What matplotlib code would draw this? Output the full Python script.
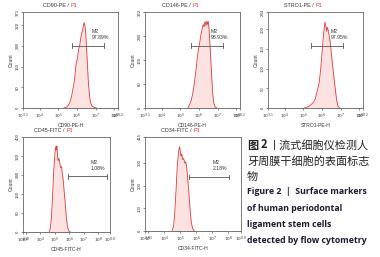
import numpy as np
import matplotlib
matplotlib.use("Agg")
import matplotlib.pyplot as plt

plt.rcParams['font.family'] = ['Liberation Sans', 'DejaVu Sans']

# panel names, x labels, % inside the M2 gate
titles = ['CD90-PE', 'CD146-PE', 'STRO1-PE', 'CD45-FITC', 'CD34-FITC']
xlabels = ['CD90-PE-H', 'CD146-PE-H', 'STRO1-PE-H', 'CD45-FITC-H', 'CD34-FITC-H']
pct = ['97.89%', '98.93%', '97.95%', '1.08%', '2.18%']

# histograms: log10 of fluorescence, count
cd90_x = [5.30, 5.45, 5.55, 5.65, 5.72, 5.80, 5.87, 5.92, 5.96, 6.02, 6.08, 6.14, 6.20, 6.25,
          6.30, 6.34, 6.38, 6.42, 6.46, 6.50, 6.55, 6.60, 6.66, 6.72, 6.80, 6.90, 7.05]
cd90_y = [0, 4, 12, 28, 50, 80, 110, 150, 175, 190, 225, 240, 270, 290,
          300, 318, 330, 320, 295, 245, 180, 110, 55, 22, 8, 3, 0]
cd146_x = [5.40, 5.50, 5.58, 5.65, 5.72, 5.80, 5.86, 5.92, 5.98, 6.04, 6.10, 6.16, 6.22,
           6.27, 6.32, 6.37, 6.42, 6.46, 6.50, 6.55, 6.60, 6.66, 6.72, 6.78, 6.85, 6.95]
cd146_y = [0, 12, 25, 45, 70, 110, 140, 175, 200, 220, 245, 262, 280,
           272, 290, 276, 292, 280, 290, 255, 200, 130, 60, 20, 5, 0]
stro1_x = [5.05, 5.25, 5.40, 5.55, 5.65, 5.75, 5.85, 5.93, 6.00, 6.06, 6.11, 6.16, 6.20,
           6.24, 6.28, 6.33, 6.38, 6.43, 6.48, 6.54, 6.60, 6.66, 6.72, 6.78, 6.85, 6.95]
stro1_y = [0, 3, 8, 15, 25, 45, 65, 100, 140, 175, 200, 218, 210,
           195, 205, 198, 185, 170, 150, 120, 95, 70, 45, 22, 5, 0]
cd45_x = [4.60, 4.68, 4.76, 4.84, 4.92, 5.00, 5.06, 5.10, 5.14, 5.18, 5.22, 5.28,
          5.34, 5.40, 5.46, 5.52, 5.58, 5.64, 5.70, 5.78, 5.86, 5.95, 6.05]
cd45_y = [0, 15, 60, 150, 260, 330, 360, 345, 362, 320, 300, 310,
          290, 270, 275, 240, 215, 170, 130, 70, 25, 5, 0]
cd34_x = [4.50, 4.58, 4.66, 4.74, 4.82, 4.90, 4.96, 5.00, 5.05, 5.10, 5.16,
          5.22, 5.28, 5.34, 5.40, 5.46, 5.52, 5.58, 5.64, 5.70, 5.78, 5.88]
cd34_y = [0, 20, 80, 180, 290, 350, 372, 355, 330, 340, 315,
          320, 300, 305, 285, 240, 190, 130, 75, 35, 10, 0]
hx = [cd90_x, cd146_x, stro1_x, cd45_x, cd34_x]
hy = [cd90_y, cd146_y, stro1_y, cd45_y, cd34_y]

# M2 gate: log10 low, log10 high, count level
gate_lo = [5.75, 5.57, 5.43, 5.92, 5.57]
gate_hi = [7.45, 7.27, 7.13, 8.62, 8.07]
gate_y = [240, 209, 158, 234, 239]

# axis ranges
x_lo = [3.1, 3.1, 3.1, 2.8, 2.8]
x_hi = [8.2, 8.2, 8.2, 8.8, 8.8]
yticks = [[0, 80, 160, 240, 320, 371],
          [0, 80, 160, 240, 322],
          [0, 50, 100, 150, 200, 244],
          [0, 80, 160, 240, 320, 400],
          [0, 100, 200, 300, 415]]

W, H = 380, 257
fig = plt.figure(figsize=(W / 100, H / 100), dpi=100)
# axes boxes in pixels: left, right, top, bottom
boxes = [(23, 118, 12, 108), (145, 240, 12, 108), (268, 363, 12, 108),
         (23, 110, 137, 232), (145, 241, 137, 231)]

red = '#e0393a'
fill = '#fce3e1'
frame = '#666666'
fs = 3.1

for i in range(5):
    l, r, t, b = boxes[i]
    ax = fig.add_axes([l / W, 1 - b / H, (r - l) / W, (b - t) / H])
    x = 10 ** np.array(hx[i])
    ax.fill_between(x, hy[i], color=fill, lw=0)
    ax.plot(x, hy[i], color=red, lw=0.6)
    ax.set_xscale('log')
    ax.set_xlim(10 ** x_lo[i], 10 ** x_hi[i])
    ax.set_ylim(0, yticks[i][-1])

    dec = list(range(int(np.ceil(x_lo[i])), int(np.floor(x_hi[i])) + 1))
    ticks = [10 ** x_lo[i]] + [10.0 ** d for d in dec] + [10 ** x_hi[i]]
    labs = ['$10^{%g}$' % x_lo[i]] + ['$10^{%d}$' % d for d in dec] + ['$10^{%g}$' % x_hi[i]]
    ax.set_xticks(ticks)
    ax.set_xticklabels(labs)
    ax.set_yticks(yticks[i])
    ax.set_yticklabels([str(v) for v in yticks[i]], rotation=90, va='center')
    ax.tick_params(labelsize=fs, length=1.5, width=0.4, pad=1, colors='#333333')
    ax.tick_params(which='minor', length=0.8, width=0.3, colors='#333333')
    for s in ax.spines.values():
        s.set_color(frame)
        s.set_linewidth(0.6)
    ax.set_xlabel(xlabels[i], fontsize=fs + 0.5, labelpad=1.5, color='#333333')
    ax.set_ylabel('Count', fontsize=fs + 0.5, labelpad=1.5, color='#333333')

    # M2 gate bar with end caps
    ax.plot([10 ** gate_lo[i], 10 ** gate_hi[i]], [gate_y[i], gate_y[i]], color='#555555', lw=0.6)
    cap = yticks[i][-1] * 0.025
    for g in (gate_lo[i], gate_hi[i]):
        ax.plot([10 ** g, 10 ** g], [gate_y[i] - cap, gate_y[i] + cap], color='#555555', lw=0.6)
    mid = (gate_lo[i] + gate_hi[i]) / 2 + 0.2
    ax.text(10 ** mid, gate_y[i] + yticks[i][-1] * 0.15, 'M2', fontsize=fs + 0.6,
            color='#333333', ha='left', va='center')
    ax.text(10 ** mid, gate_y[i] + yticks[i][-1] * 0.085, pct[i], fontsize=fs + 0.6,
            color='#333333', ha='left', va='center')

    # title: name in grey, P1 in red
    t1 = ax.text(0.5, 1.04, titles[i] + ' / ', transform=ax.transAxes, fontsize=fs + 0.8,
                 color='#333333', ha='right', va='bottom')
    ax.annotate('P1', xy=(1, 0), xycoords=t1, fontsize=fs + 0.8, color=red,
                ha='left', va='bottom')

# caption on the right
cjk = ['Noto Sans CJK SC', 'DejaVu Sans']
fig.text(247 / W, 1 - 145 / H, '图', family=cjk, fontsize=8.0, fontweight='bold',
         color='#222222', va='center', ha='left')
fig.text(261 / W, 1 - 145 / H, '2', family=cjk, fontsize=8.0, fontweight='bold',
         color='#222222', va='center', ha='left')
fig.text(269 / W, 1 - 145 / H, '丨流式细胞仪检测人', family=cjk, fontsize=8.0,
         color='#222222', va='center', ha='left')
fig.text(247 / W, 1 - 161 / H, '牙周膜干细胞的表面标志', family=cjk, fontsize=8.0,
         color='#222222', va='center', ha='left')
fig.text(247 / W, 1 - 177 / H, '物', family=cjk, fontsize=8.0,
         color='#222222', va='center', ha='left')

eng = ['Figure 2  |  Surface markers', 'of human periodontal',
       'ligament stem cells', 'detected by flow cytometry']
for k, line in enumerate(eng):
    fig.text(247 / W, 1 - (192 + 16.3 * k) / H, line,
             family=['Open Sans', 'DejaVu Sans'],
             fontsize=6.3, fontweight='bold', color='#1a1a2e', va='center', ha='left')

fig.savefig('out.png', dpi=100)
